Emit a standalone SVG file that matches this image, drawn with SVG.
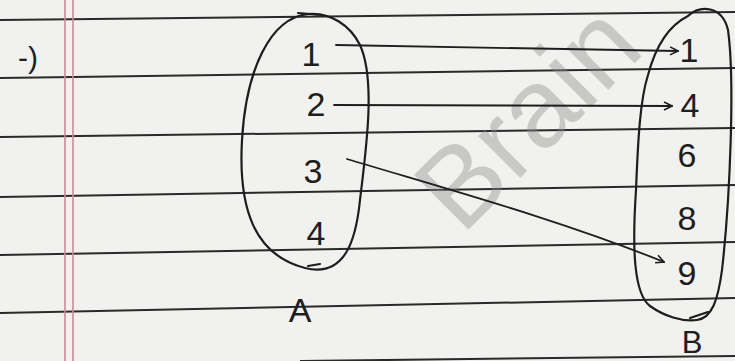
<svg xmlns="http://www.w3.org/2000/svg" width="735" height="361" viewBox="0 0 735 361">
<defs>
<style>
.rule{stroke:#2a2a2a;stroke-width:2;fill:none}
.margin{stroke:#c98a9c;stroke-width:1.6;fill:none}
.set{stroke:#1e1e1e;stroke-width:2.2;fill:none;stroke-linecap:round}
.num{font-family:"Liberation Sans","DejaVu Sans",sans-serif;font-size:34px;fill:#1e1e1e;text-anchor:middle}
.conn{stroke:#1e1e1e;stroke-width:1.8;fill:none;stroke-linecap:round}
.wm{font-family:"Liberation Sans","DejaVu Sans",sans-serif;font-size:112px;fill:#8c8c8c;fill-opacity:0.4}
</style>
<marker id="chev" viewBox="0 0 10 10" refX="9" refY="5" markerWidth="10" markerHeight="10" markerUnits="userSpaceOnUse" orient="auto">
<path d="M1,1 L9,5 L1,9" fill="none" stroke="#1e1e1e" stroke-width="1.6"/>
</marker>
</defs>
<rect width="735" height="361" fill="#f1f1ef"/>
<g id="paper">
<line class="rule" x1="0" y1="20" x2="735" y2="12"/>
<line class="rule" x1="0" y1="78" x2="735" y2="68"/>
<line class="rule" x1="0" y1="137" x2="735" y2="128"/>
<line class="rule" x1="0" y1="197" x2="735" y2="185"/>
<line class="rule" x1="0" y1="255" x2="735" y2="242"/>
<line class="rule" x1="0" y1="313" x2="735" y2="298"/>
<line class="rule" x1="300" y1="361" x2="735" y2="356"/>
<line class="margin" x1="65" y1="0" x2="65" y2="361"/>
<line class="margin" x1="73" y1="0" x2="73" y2="361"/>
</g>
<g id="watermark">
<text class="wm" transform="translate(462,236) rotate(-45)">Brain</text>
</g>
<g id="prefix">
<text class="num" x="28" y="68" style="font-size:30px">-)</text>
</g>
<g id="setA">
<path class="set" d="M308,14 C270,18 246,70 242,140 C238,210 255,255 305,268 C345,278 356,240 360,200 C366,150 376,80 360,45 C350,25 330,12 308,14 Z"/>
<path class="set" d="M298,13 L323,15"/>
<path class="set" d="M308,266 L320,264"/>
<text class="num" x="311" y="66">1</text>
<text class="num" x="316" y="116">2</text>
<text class="num" x="313" y="183">3</text>
<text class="num" x="316" y="245">4</text>
</g>
<g id="labelA">
<text class="num" x="300" y="322">A</text>
</g>
<g id="setB">
<path class="set" d="M688,16 C700,5 722,5 728,30 C735,80 730,200 722,270 C718,300 712,318 697,320 C682,322 664,316 650,306 C634,294 632,250 636,190 C638,140 640,100 648,75 C656,45 670,25 688,16 Z"/>
<path class="set" d="M690,318 L708,312"/>
<text class="num" x="689" y="62">1</text>
<text class="num" x="690" y="117">4</text>
<text class="num" x="687" y="167">6</text>
<text class="num" x="687" y="230">8</text>
<text class="num" x="687" y="285">9</text>
</g>
<g id="labelB">
<text class="num" x="692" y="353" style="font-size:31px">B</text>
</g>
<g id="connectors">
<path class="conn" d="M336,45 L678,51" marker-end="url(#chev)"/>
<path class="conn" d="M334,105 L672,106" marker-end="url(#chev)"/>
<path class="conn" d="M347,159 C450,190 560,220 664,262" marker-end="url(#chev)"/>
</g>
</svg>
